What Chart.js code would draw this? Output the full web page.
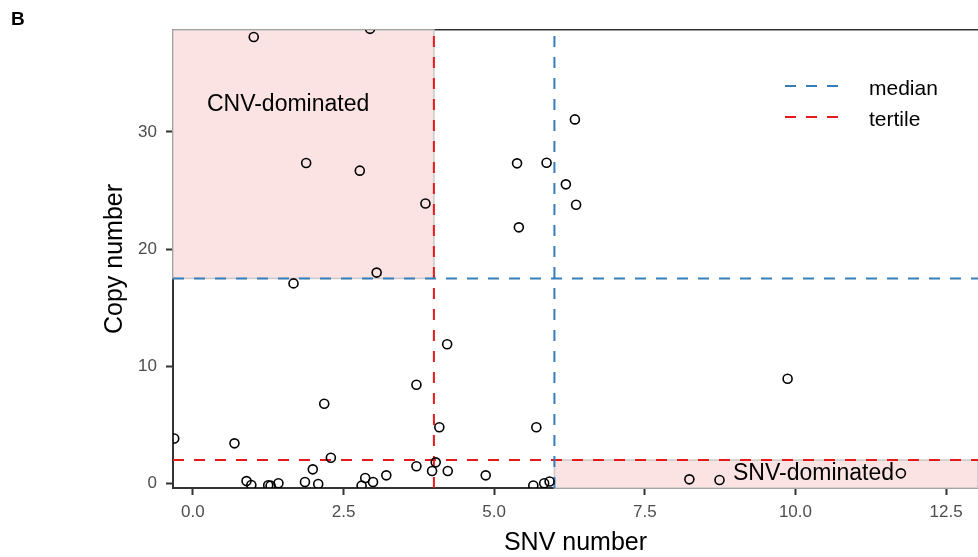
<!DOCTYPE html>
<html lang="en">
<head>
    <meta charset="UTF-8">
    <title>SNV vs copy number</title>
    <script src="https://cdn.jsdelivr.net/npm/chart.js"></script>
    <style>
        html, body { margin: 0; padding: 0; background: #fff; }
        #wrap { width: 978px; height: 557px; }
    </style>
</head>
<body>
    <div id="wrap"><canvas id="myChart"></canvas></div>

    <script>
        // sample values
        const snvNumber  = [1.01, 2.94, 1.88, 2.77, 3.86, 3.05, 1.67, 6.34, 5.38, 5.87, 6.19, 6.36, 5.41,
                            4.22, 3.71, 2.18, 4.09, -0.31, 0.69, 2.29, 4.03, 3.71, 3.97, 4.23, 1.99, 3.21,
                            4.86, 0.89, 0.97, 1.25, 1.29, 1.42, 1.86, 2.08, 2.80, 2.86, 2.99, 5.65, 5.83,
                            5.92, 5.70, 9.87, 8.24, 8.74, 11.75];
        const copyNumber = [38.1, 38.8, 27.35, 26.7, 23.9, 18.0, 17.08, 31.07, 27.32, 27.37, 25.53, 23.79, 21.86,
                            11.88, 8.43, 6.81, 4.80, 3.84, 3.43, 2.2, 1.81, 1.47, 1.07, 1.07, 1.21, 0.70,
                            0.70, 0.21, -0.13, -0.15, -0.18, 0.02, 0.13, -0.04, -0.18, 0.47, 0.13, -0.17, 0.02,
                            0.17, 4.80, 8.94, 0.36, 0.30, 0.87];

        // cut-offs
        const medianSnv = 6.0;
        const medianCopy = 17.5;
        const tertileSnv = 4.0;
        const tertileCopy = 2.0;

        // axis ranges and ticks
        const xMin = -0.33, xMax = 13.03;
        const yMin = -0.38, yMax = 38.7;
        const xTicks = [0, 2.5, 5, 7.5, 10, 12.5];
        const yTicks = [0, 10, 20, 30];

        const FONT = '"Liberation Sans", Arial, Helvetica, sans-serif';
        const BLUE = '#377EB8';
        const RED = '#E41A1C';
        const DASH = [11, 10];

        Chart.defaults.font.family = FONT;

        const points = snvNumber.map((x, i) => ({ x: x, y: copyNumber[i] }));

        function cutLine(label, color, pts) {
            return {
                type: 'line', label: label, data: pts, showLine: true,
                borderColor: color, borderWidth: 2, borderDash: DASH,
                pointRadius: 0, fill: false, clip: 0
            };
        }

        // shaded quadrants + region labels, placed through the scales
        const regionPlugin = {
            id: 'regions',
            beforeDatasetsDraw(chart) {
                const { ctx, scales: { x, y } } = chart;
                const boxes = [
                    [xMin, tertileSnv, medianCopy, yMax],
                    [medianSnv, xMax, yMin, tertileCopy]
                ];
                ctx.save();
                boxes.forEach(b => {
                    const x0 = x.getPixelForValue(b[0]), x1 = x.getPixelForValue(b[1]);
                    const y0 = y.getPixelForValue(b[3]), y1 = y.getPixelForValue(b[2]);
                    ctx.fillStyle = '#fbe3e4';
                    ctx.fillRect(x0, y0, x1 - x0, y1 - y0);
                    ctx.strokeStyle = '#c9c9c9';
                    ctx.lineWidth = 1.5;
                    ctx.strokeRect(x0, y0, x1 - x0, y1 - y0);
                });
                ctx.fillStyle = '#000';
                ctx.font = '23px ' + FONT;
                ctx.textAlign = 'center';
                ctx.textBaseline = 'middle';
                ctx.fillText('CNV-dominated', x.getPixelForValue(1.58), y.getPixelForValue(32.3));
                ctx.fillText('SNV-dominated', x.getPixelForValue(10.3), y.getPixelForValue(0.87));
                ctx.restore();
            },
            afterDraw(chart) {
                const { ctx, chartArea } = chart;
                ctx.save();
                // legend
                const lx = chartArea.right - 193;
                const items = [['median', BLUE, 86], ['tertile', RED, 117]];
                items.forEach(it => {
                    ctx.strokeStyle = it[1];
                    ctx.lineWidth = 2;
                    ctx.setLineDash(DASH);
                    ctx.beginPath();
                    ctx.moveTo(lx, it[2]);
                    ctx.lineTo(lx + 54, it[2]);
                    ctx.stroke();
                    ctx.setLineDash([]);
                    ctx.fillStyle = '#000';
                    ctx.font = '21px ' + FONT;
                    ctx.textAlign = 'left';
                    ctx.textBaseline = 'middle';
                    ctx.fillText(it[0], lx + 84, it[2] + 3);
                });
                // panel letter
                ctx.font = 'bold 19px ' + FONT;
                ctx.textBaseline = 'middle';
                ctx.fillText('B', 11, 20);
                ctx.restore();
            }
        };

        const config = {
            type: 'scatter',
            data: {
                datasets: [
                    {
                        label: 'samples', data: points,
                        pointRadius: 4.5, pointHoverRadius: 4.5,
                        backgroundColor: 'rgba(0,0,0,0)', borderColor: '#000', borderWidth: 1.6,
                        clip: 0
                    },
                    cutLine('median', BLUE, [{ x: medianSnv, y: yMin }, { x: medianSnv, y: yMax }]),
                    cutLine('median', BLUE, [{ x: xMin, y: medianCopy }, { x: xMax, y: medianCopy }]),
                    cutLine('tertile', RED, [{ x: tertileSnv, y: yMin }, { x: tertileSnv, y: yMax }]),
                    cutLine('tertile', RED, [{ x: xMin, y: tertileCopy }, { x: xMax, y: tertileCopy }])
                ]
            },
            options: {
                responsive: true,
                maintainAspectRatio: false,
                animation: false,
                layout: { autoPadding: false, padding: { top: 30, right: 0, bottom: 0, left: 0 } },
                plugins: { legend: { display: false }, tooltip: { enabled: false } },
                scales: {
                    x: {
                        type: 'linear', position: 'bottom', min: xMin, max: xMax,
                        afterBuildTicks: s => { s.ticks = xTicks.map(v => ({ value: v })); },
                        afterFit: s => { s.height = 69; },
                        ticks: {
                            callback: v => Number(v).toFixed(1), color: '#4d4d4d',
                            font: { size: 17 }, padding: 7, maxRotation: 0, autoSkip: false
                        },
                        grid: { drawOnChartArea: false, tickLength: 7, tickColor: '#333', tickWidth: 2 },
                        border: { color: '#333', width: 2 },
                        title: { display: true, text: 'SNV number', color: '#000', font: { size: 25 }, padding: { top: 0, bottom: -1 } }
                    },
                    x2: {
                        type: 'linear', position: 'top', min: xMin, max: xMax,
                        afterFit: s => { s.height = 0; },
                        ticks: { display: false },
                        grid: { display: false },
                        border: { display: true, color: '#333', width: 1.5 }
                    },
                    y: {
                        type: 'linear', min: yMin, max: yMax,
                        afterBuildTicks: s => { s.ticks = yTicks.map(v => ({ value: v })); },
                        afterFit: s => { s.width = 173; },
                        ticks: { color: '#4d4d4d', font: { size: 17 }, padding: 9 },
                        grid: { drawOnChartArea: false, tickLength: 7, tickColor: '#333', tickWidth: 2 },
                        border: { color: '#333', width: 2 },
                        title: { display: true, text: 'Copy number', color: '#000', font: { size: 25 }, padding: { top: 100, bottom: 0 } }
                    }
                }
            },
            plugins: [regionPlugin]
        };

        const myChart = new Chart(document.getElementById('myChart'), config);
    </script>
</body>
</html>
